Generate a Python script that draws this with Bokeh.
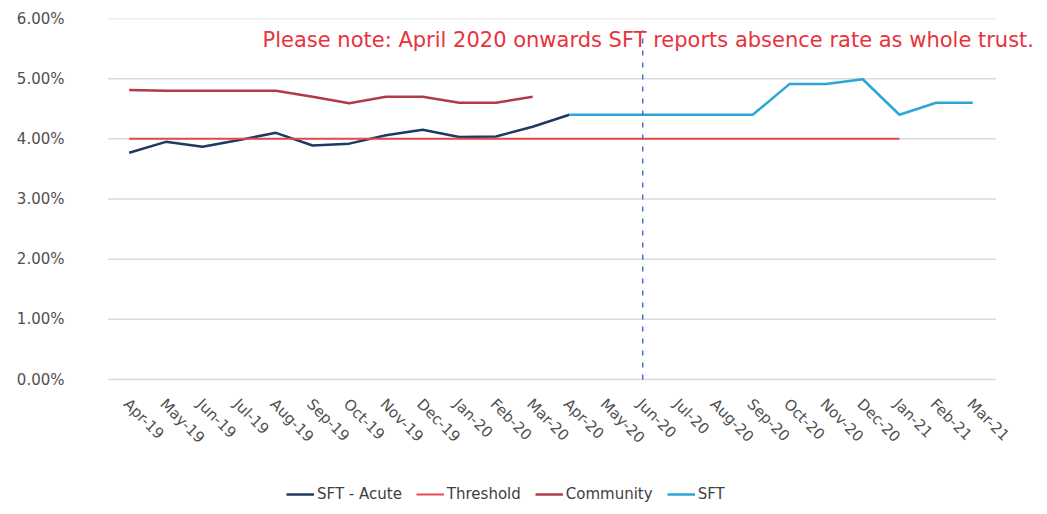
import math
from bokeh.plotting import figure
from bokeh.models import (Legend, LegendItem, Label, PrintfTickFormatter,
                          FixedTicker, Range1d, FactorRange)
from bokeh.core.properties import value
from bokeh.embed import file_html
from bokeh.resources import INLINE

months = ["Apr-19", "May-19", "Jun-19", "Jul-19", "Aug-19", "Sep-19", "Oct-19",
          "Nov-19", "Dec-19", "Jan-20", "Feb-20", "Mar-20", "Apr-20", "May-20",
          "Jun-20", "Jul-20", "Aug-20", "Sep-20", "Oct-20", "Nov-20", "Dec-20",
          "Jan-21", "Feb-21", "Mar-21"]

acute_months = ["Apr-19", "May-19", "Jun-19", "Jul-19", "Aug-19", "Sep-19", "Oct-19",
                "Nov-19", "Dec-19", "Jan-20", "Feb-20", "Mar-20", "Apr-20"]
acute_values = [3.77, 3.95, 3.87, 3.98, 4.10, 3.89, 3.92, 4.06, 4.15, 4.03, 4.04, 4.20, 4.40]

threshold_months = ["Apr-19", "May-19", "Jun-19", "Jul-19", "Aug-19", "Sep-19", "Oct-19",
                    "Nov-19", "Dec-19", "Jan-20", "Feb-20", "Mar-20", "Apr-20", "May-20",
                    "Jun-20", "Jul-20", "Aug-20", "Sep-20", "Oct-20", "Nov-20", "Dec-20",
                    "Jan-21"]
threshold_values = [4.00, 4.00, 4.00, 4.00, 4.00, 4.00, 4.00, 4.00, 4.00, 4.00, 4.00,
                    4.00, 4.00, 4.00, 4.00, 4.00, 4.00, 4.00, 4.00, 4.00, 4.00, 4.00]

community_months = ["Apr-19", "May-19", "Jun-19", "Jul-19", "Aug-19", "Sep-19", "Oct-19",
                    "Nov-19", "Dec-19", "Jan-20", "Feb-20", "Mar-20"]
community_values = [4.81, 4.80, 4.80, 4.80, 4.80, 4.70, 4.59, 4.70, 4.70, 4.60, 4.60, 4.70]

sft_months = ["Apr-20", "May-20", "Jun-20", "Jul-20", "Aug-20", "Sep-20", "Oct-20",
              "Nov-20", "Dec-20", "Jan-21", "Feb-21", "Mar-21"]
sft_values = [4.40, 4.40, 4.40, 4.40, 4.40, 4.40, 4.91, 4.91, 4.99, 4.40, 4.60, 4.60]

y_ticks = [0, 1, 2, 3, 4, 5, 6]
note_month = "Jun-20"
note_text = "Please note: April 2020 onwards SFT reports absence rate as whole trust."

FONT = "DejaVu Sans"

# categorical range padded so the last rotated month label is not clipped
x_range = FactorRange(factors=months, range_padding=1.4, range_padding_units="absolute")

# frame extends below the 0% line so that the month labels and legend live inside it
p = figure(frame_width=983, frame_height=492, x_range=x_range,
           y_range=Range1d(-2.177, 6),
           x_axis_location=None,
           output_backend="svg", toolbar_location=None,
           min_border_left=59, min_border_right=4, min_border_top=18,
           min_border_bottom=0)
p.outline_line_color = None
p.background_fill_color = "white"
p.border_fill_color = "white"

p.xgrid.grid_line_color = None
p.xgrid.visible = False
p.ygrid.grid_line_color = None
p.ygrid.visible = False

# horizontal gridlines spanning only the category area
grid_left = ("Apr-19", -0.58)
grid_right = ("Mar-21", 0.63)
p.segment(x0=[grid_left] * len(y_ticks), y0=y_ticks,
          x1=[grid_right] * len(y_ticks), y1=y_ticks,
          line_color="#D9D9D9", line_width=1.5)

p.yaxis.ticker = FixedTicker(ticks=y_ticks)
p.yaxis.formatter = PrintfTickFormatter(format="%.2f%%")
p.yaxis.axis_line_color = None
p.yaxis.major_tick_line_color = None
p.yaxis.minor_tick_line_color = None
p.yaxis.major_label_text_font = FONT
p.yaxis.major_label_text_color = "#505050"
p.yaxis.major_label_text_font_size = "15px"
p.yaxis.major_label_standoff = -11

# month labels, rotated, hanging below the 0% line
p.text(x=months, y=0, text=months, angle=-math.pi / 4,
       x_offset=-3, y_offset=22, text_align="left", text_baseline="middle",
       text_font=value(FONT), text_font_size="15px", text_color="#505050")

r_acute = p.line(acute_months, acute_values, line_color="#1F3864", line_width=2.5)
r_thr = p.line(threshold_months, threshold_values, line_color="#E5484D", line_width=2)
r_com = p.line(community_months, community_values, line_color="#B23A48", line_width=2.5)
r_sft = p.line(sft_months, sft_values, line_color="#2BA6D6", line_width=2.5)

p.segment(x0=[note_month], y0=[0], x1=[note_month], y1=[5.8],
          line_color="#4A6FC0", line_width=1.5, line_dash="5 7")

p.add_layout(Label(x=203, y=5.65, x_units="screen", y_units="data", text=note_text,
                   text_font=FONT, text_font_size="21px", text_color="#E8323C",
                   text_baseline="middle", text_align="left"))

legend = Legend(items=[LegendItem(label="SFT - Acute", renderers=[r_acute]),
                       LegendItem(label="Threshold", renderers=[r_thr]),
                       LegendItem(label="Community", renderers=[r_com]),
                       LegendItem(label="SFT", renderers=[r_sft])],
                orientation="horizontal", location=(227, 6),
                label_text_font=FONT, label_text_font_size="15px",
                label_text_color="#404040", glyph_width=28, label_standoff=3,
                spacing=14, border_line_color=None, background_fill_alpha=0,
                padding=0, margin=0)
p.add_layout(legend, "center")

open("out.html", "w").write(file_html(p, INLINE))
